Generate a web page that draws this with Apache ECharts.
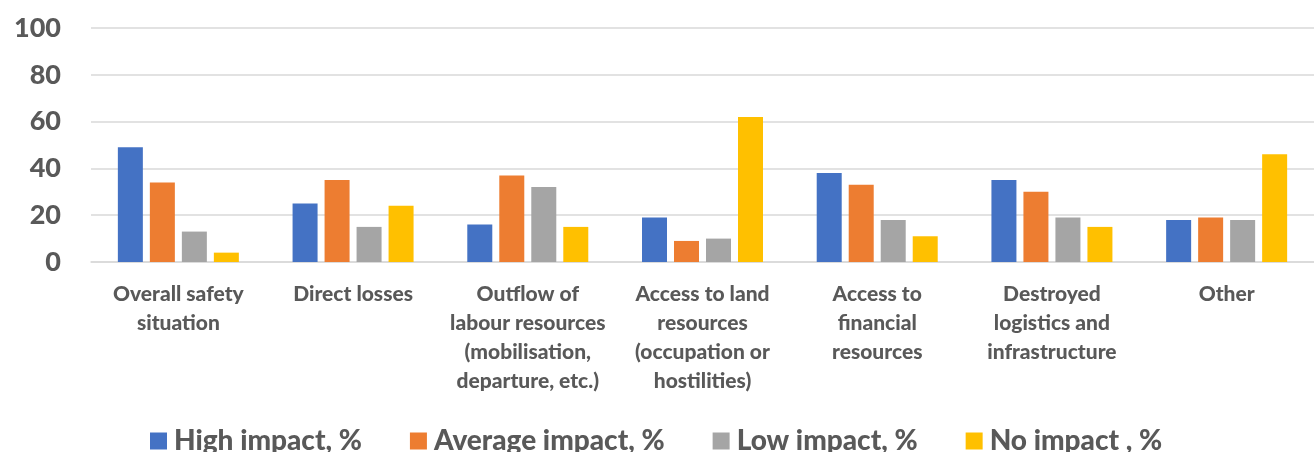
<!DOCTYPE html>
<html>
<head>
<meta charset="utf-8">
<script src="https://cdn.jsdelivr.net/npm/echarts@6/dist/echarts.min.js"></script>
<style>html,body{margin:0;padding:0;background:#fff;}#c{width:1314px;height:452px;}</style>
</head>
<body>
<div id="c"></div>
<script>
const categories = [
  "Overall safety\nsituation",
  "Direct losses",
  "Outflow of\nlabour resources\n(mobilisation,\ndeparture, etc.)",
  "Access to land\nresources\n(occupation or\nhostilities)",
  "Access to\nfinancial\nresources",
  "Destroyed\nlogistics and\ninfrastructure",
  "Other"
];
const seriesNames = ["High impact, %", "Average impact, %", "Low impact, %", "No impact , %"];
const highImpact = [49, 25, 16, 19, 38, 35, 18];
const averageImpact = [34, 35, 37, 9, 33, 30, 19];
const lowImpact = [13, 15, 32, 10, 18, 19, 18];
const noImpact = [4, 24, 15, 62, 11, 15, 46];
const yTicks = { min: 0, max: 100, interval: 20 };

const colors = ["#4472C4", "#ED7D31", "#A5A5A5", "#FFC000"];
const values = [highImpact, averageImpact, lowImpact, noImpact];
const font = "Lato, 'Open Sans', sans-serif";

const chart = echarts.init(document.getElementById('c'));
chart.setOption({
  animation: false,
  color: colors,
  grid: { left: 91, right: 0, top: 28, bottom: 190, containLabel: false },
  legend: {
    top: 422,
    left: 145,
    itemWidth: 17,
    itemHeight: 17,
    itemGap: 48,
    icon: 'rect',
    textStyle: { fontFamily: font, fontWeight: 900, fontSize: 28, color: '#595959', padding: [0, 0, 0, 2] },
    data: seriesNames
  },
  xAxis: {
    type: 'category',
    data: categories,
    axisLine: { show: true, lineStyle: { color: '#d9d9d9', width: 1.5 } },
    axisTick: { show: false },
    axisLabel: {
      interval: 0,
      margin: 18,
      fontFamily: font,
      fontWeight: 900,
      fontSize: 21,
      lineHeight: 29,
      color: '#595959'
    }
  },
  yAxis: {
    type: 'value',
    min: yTicks.min,
    max: yTicks.max,
    interval: yTicks.interval,
    axisLine: { show: false },
    axisTick: { show: false },
    splitLine: { lineStyle: { color: '#d9d9d9', width: 1.5 } },
    axisLabel: {
      margin: 30,
      fontFamily: font,
      fontWeight: 900,
      fontSize: 27,
      color: '#595959'
    }
  },
  series: seriesNames.map((n, i) => ({
    name: n,
    type: 'bar',
    data: values[i],
    barWidth: 25,
    barGap: '28%',
    itemStyle: { color: colors[i] }
  }))
});
</script>
</body>
</html>
